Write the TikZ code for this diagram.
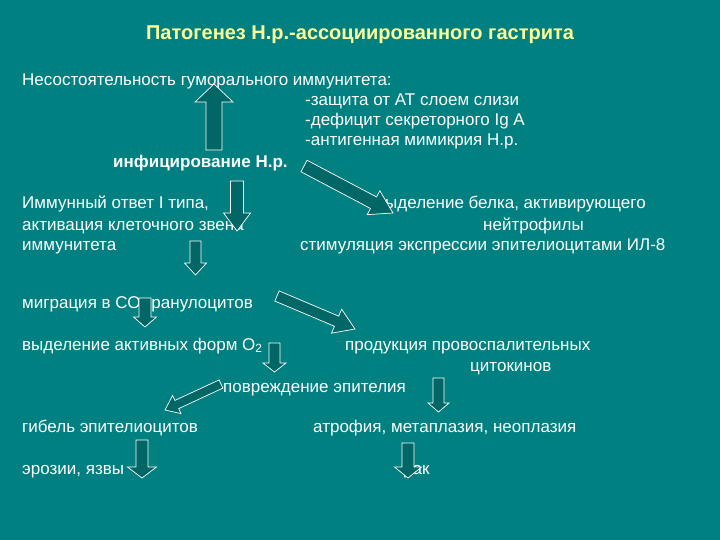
\documentclass[tikz,border=0pt]{standalone}
\usepackage{fontspec}
\setmainfont{Liberation Sans}
\usetikzlibrary{calc}
\definecolor{slidebg}{HTML}{008080}
\definecolor{arrowfill}{HTML}{006666}
\definecolor{titleyellow}{HTML}{FFFF99}

% block arrow: tail, tip, half shaft width, half head width, head length
\newcommand\blockarrow[5]{%
  \path let \p1=($(#2)-(#1)$), \n1={atan2(\y1,\x1)}, \n2={veclen(\x1,\y1)} in
    \pgfextra{\xdef\barang{\n1}\xdef\barlen{\n2}};
  \draw[blk, shift={(#1)}, rotate=\barang]
    (0,#3) -- ({\barlen-#5},#3) -- ({\barlen-#5},#4) -- (\barlen,0)
    -- ({\barlen-#5},-#4) -- ({\barlen-#5},-#3) -- (0,-#3) -- cycle;
}

\begin{document}
\begin{tikzpicture}[x=1pt, y=-1pt,
    txt/.style={anchor=base west, inner sep=0pt, text=white, font=\fontsize{17}{20}\selectfont},
    ttl/.style={anchor=base, inner sep=0pt, text=titleyellow, font=\fontsize{20}{24}\selectfont\bfseries},
    blk/.style={draw=white, fill=arrowfill, line width=0.7pt, line join=miter}
]
    \fill[slidebg] (0,0) rectangle (720,540);
    \useasboundingbox (0,0) rectangle (720,540);

    \node[ttl] (title) at (360,40) {Патогенез Н.р.-ассоциированного гастрита};

    % left column
    \node[txt] (humoral) at (22,86) {Несостоятельность гуморального иммунитета:};
    \node[txt] (mucus) at (305,106) {-защита от АТ слоем слизи};
    \node[txt] (iga) at (305,126) {-дефицит секреторного Ig A};
    \node[txt] (mimic) at (305,146) {-антигенная мимикрия Н.р.};
    \node[txt, font=\fontsize{17}{20}\selectfont\bfseries] (infect) at (113,168) {инфицирование Н.р.};
    \node[txt] (immune1) at (22,208) {Иммунный ответ I типа,};
    \node[txt] (immune2) at (22,230) {активация клеточного звена};
    \node[txt] (immune3) at (22,251) {иммунитета};
    \node[txt] (protein) at (376,208) {выделение белка, активирующего};
    \node[txt] (neutro) at (483,230) {нейтрофилы};
    \node[txt] (il8) at (300,251) {стимуляция экспрессии эпителиоцитами ИЛ-8};
    \node[txt] (migr) at (22,308) {миграция в СО гранулоцитов};
    \node[txt] (oxy) at (22,350) {выделение активных форм O\textsubscript{2}};
    \node[txt] (cyto1) at (345,350) {продукция провоспалительных};
    \node[txt] (cyto2) at (470,371) {цитокинов};
    \node[txt] (damage) at (223,392) {повреждение эпителия};
    \node[txt] (death) at (22,432) {гибель эпителиоцитов};
    \node[txt] (atroph) at (313,432) {атрофия, метаплазия, неоплазия};
    \node[txt] (erosion) at (22,474) {эрозии, язвы};
    \node[txt] (cancer) at (403,474) {рак};

    % arrow ends
    \coordinate (upT) at (214,150);   \coordinate (upH) at (214,84);
    \coordinate (aT) at (237,181);    \coordinate (aH) at (237,231);
    \coordinate (dgaT) at (304,166);  \coordinate (dgaH) at (393,213);
    \coordinate (bT) at (195.5,241);  \coordinate (bH) at (195.5,275);
    \coordinate (cT) at (145,298);    \coordinate (cH) at (145,327);
    \coordinate (dgbT) at (277,296);  \coordinate (dgbH) at (355,329);
    \coordinate (dT) at (274.5,343);  \coordinate (dH) at (274.5,372);
    \coordinate (dgcT) at (221,384);  \coordinate (dgcH) at (165,410);
    \coordinate (eT) at (438.5,378);  \coordinate (eH) at (438.5,412);
    \coordinate (fT) at (408,443);    \coordinate (fH) at (408,478);
    \coordinate (gT) at (142,440);    \coordinate (gH) at (142,478);

    \blockarrow{upT}{upH}{8}{19}{18}
    \blockarrow{aT}{aH}{6.5}{13.5}{18}
    \blockarrow{dgaT}{dgaH}{6.5}{13.5}{22}
    \blockarrow{bT}{bH}{5.5}{11}{12}
    \blockarrow{cT}{cH}{6}{11.5}{10}
    \blockarrow{dgbT}{dgbH}{5.5}{13}{20}
    \blockarrow{dT}{dH}{5.5}{11.5}{9}
    \blockarrow{dgcT}{dgcH}{4.5}{10}{13}
    \blockarrow{eT}{eH}{5.5}{10.5}{9}
    \blockarrow{fT}{fH}{6}{13.5}{11}
    \blockarrow{gT}{gH}{6}{14.5}{11}
\end{tikzpicture}
\end{document}
